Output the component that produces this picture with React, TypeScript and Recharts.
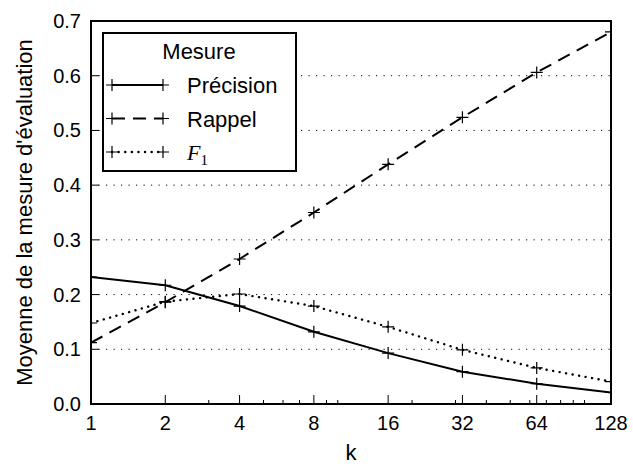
import { LineChart, Line, XAxis, YAxis, CartesianGrid, Legend, ReferenceArea } from "recharts";

const kValues = [1, 2, 4, 8, 16, 32, 64, 128];
const precision = [0.232, 0.217, 0.179, 0.132, 0.093, 0.059, 0.037, 0.021];
const rappel = [0.112, 0.186, 0.265, 0.35, 0.438, 0.524, 0.606, 0.68];
const f1 = [0.148, 0.187, 0.201, 0.179, 0.141, 0.099, 0.066, 0.041];

const minorTicks = [3, 5, 6, 7, 9, 10, 20, 30, 40, 50, 60, 70, 80, 90, 100];
const yTicks = [0, 0.1, 0.2, 0.3, 0.4, 0.5, 0.6, 0.7];

const data = kValues.map((k, i) => ({ k, precision: precision[i], rappel: rappel[i], f1: f1[i] }));

const series = [
  { key: "precision", name: "Précision", dash: undefined, cap: "butt", width: 2 },
  { key: "rappel", name: "Rappel", dash: "13 8", cap: "butt", width: 2 },
  { key: "f1", name: "F1", dash: "0.1 6.5", cap: "round", width: 2.4 },
];

const FONT = "'Liberation Sans', Arial, Helvetica, sans-serif";
const SERIF = "'Liberation Serif', 'DejaVu Serif', serif";

const plus = (cx: number, cy: number, r = 6) => `M${cx - r},${cy}h${2 * r}M${cx},${cy - r}v${2 * r}`;

const PlusDot = (props: any) => {
  const { cx, cy, index } = props;
  if (cx == null || cy == null) return null;
  return <path key={`dot-${index}`} d={plus(cx, cy)} stroke="#000" strokeWidth={1.2} fill="none" />;
};

const BottomTick = (props: any) => {
  const { x, y, payload } = props;
  const major = kValues.includes(payload.value);
  return (
    <g>
      <line x1={x} x2={x} y1={y} y2={y - (major ? 9 : 4)} stroke="#000" strokeWidth={1} />
      {major && (
        <text x={x} y={y + 26} textAnchor="middle" fontSize={20} fontFamily={FONT} fill="#000">
          {payload.value}
        </text>
      )}
    </g>
  );
};

const TopTick = (props: any) => {
  const { x, y, payload } = props;
  const major = kValues.includes(payload.value);
  return <line x1={x} x2={x} y1={y} y2={y + (major ? 9 : 4)} stroke="#000" strokeWidth={1} />;
};

const LeftTick = (props: any) => {
  const { x, y, payload } = props;
  return (
    <g>
      <line x1={x} x2={x + 8} y1={y} y2={y} stroke="#000" strokeWidth={1} />
      <text x={x - 10} y={y + 7} textAnchor="end" fontSize={20} fontFamily={FONT} fill="#000">
        {payload.value.toFixed(1)}
      </text>
    </g>
  );
};

const RightTick = (props: any) => {
  const { x, y } = props;
  return <line x1={x} x2={x - 8} y1={y} y2={y} stroke="#000" strokeWidth={1} />;
};

const YLabel = (props: any) => {
  const vb = props.viewBox;
  const cx = vb.x + 32;
  const cy = vb.y + vb.height / 2;
  return (
    <text x={cx} y={cy} transform={`rotate(-90 ${cx} ${cy})`} textAnchor="middle" fontSize={22} fontFamily={FONT} fill="#000">
      Moyenne de la mesure d'évaluation
    </text>
  );
};

const XLabel = (props: any) => {
  const vb = props.viewBox;
  return (
    <text x={vb.x + vb.width / 2} y={vb.y + 56} textAnchor="middle" fontSize={22} fontFamily={FONT} fill="#000">
      k
    </text>
  );
};

const LegendBox = () => (
  <svg width={195} height={140} style={{ display: "block", background: "#fff" }}>
    <rect x={1} y={1} width={193} height={138} fill="#fff" stroke="#000" strokeWidth={2} />
    <text x={97} y={27} textAnchor="middle" fontSize={22} fontFamily={FONT}>
      Mesure
    </text>
    {series.map((s, i) => {
      const cy = 53 + i * 33.5;
      return (
        <g key={s.key}>
          <line x1={10} x2={61} y1={cy} y2={cy} stroke="#000" strokeWidth={s.width} strokeDasharray={s.dash} strokeLinecap={s.cap as any} />
          <path d={plus(10, cy)} stroke="#000" strokeWidth={1.2} />
          <path d={plus(61, cy)} stroke="#000" strokeWidth={1.2} />
          {s.key === "f1" ? (
            <text x={85} y={cy + 8} fontSize={22} fontFamily={SERIF}>
              <tspan fontStyle="italic">F</tspan>
              <tspan fontSize={15} dy={5}>1</tspan>
            </text>
          ) : (
            <text x={85} y={cy + 8} fontSize={22} fontFamily={FONT}>
              {s.name}
            </text>
          )}
        </g>
      );
    })}
  </svg>
);

export default function App() {
  return (
    <div style={{ width: 633, height: 466, background: "#fff", fontFamily: FONT }}>
      <style>{`body{margin:0}`}</style>
      <LineChart width={633} height={466} data={data} margin={{ top: 21, right: 22, left: 0, bottom: 0 }}>
        <CartesianGrid vertical={false} stroke="#000" strokeWidth={1} strokeDasharray="1.2 6.3" />
        <XAxis
          dataKey="k"
          type="number"
          scale="log"
          domain={[1, 128]}
          ticks={[...kValues, ...minorTicks]}
          interval={0}
          allowDataOverflow
          axisLine={false}
          tickLine={false}
          tickSize={0}
          tickMargin={0}
          height={62}
          tick={<BottomTick />}
          label={XLabel}
        />
        <XAxis
          xAxisId="top"
          orientation="top"
          dataKey="k"
          type="number"
          scale="log"
          domain={[1, 128]}
          ticks={[...kValues, ...minorTicks]}
          interval={0}
          allowDataOverflow
          axisLine={false}
          tickLine={false}
          tickSize={0}
          tickMargin={0}
          height={0}
          tick={<TopTick />}
        />
        <YAxis
          type="number"
          domain={[0, 0.7]}
          ticks={yTicks}
          interval={0}
          allowDataOverflow
          axisLine={false}
          tickLine={false}
          tickSize={0}
          tickMargin={0}
          width={91}
          tick={<LeftTick />}
          label={YLabel}
        />
        <YAxis
          yAxisId="right"
          orientation="right"
          type="number"
          domain={[0, 0.7]}
          ticks={yTicks}
          interval={0}
          allowDataOverflow
          axisLine={false}
          tickLine={false}
          tickSize={0}
          tickMargin={0}
          width={0}
          tick={<RightTick />}
        />
        {series.map((s) => (
          <Line
            key={s.key}
            dataKey={s.key}
            name={s.name}
            type="linear"
            stroke="#000"
            strokeWidth={s.width}
            strokeDasharray={s.dash}
            strokeLinecap={s.cap as any}
            dot={PlusDot}
            activeDot={false}
            isAnimationActive={false}
          />
        ))}
        <ReferenceArea x1={1} x2={128} y1={0} y2={0.7} fill="none" stroke="#000" strokeWidth={2} ifOverflow="visible" />
        <Legend
          layout="vertical"
          align="center"
          verticalAlign="middle"
          content={LegendBox}
          wrapperStyle={{ left: 102, top: 32, width: 195, height: 140 }}
        />
      </LineChart>
    </div>
  );
}
